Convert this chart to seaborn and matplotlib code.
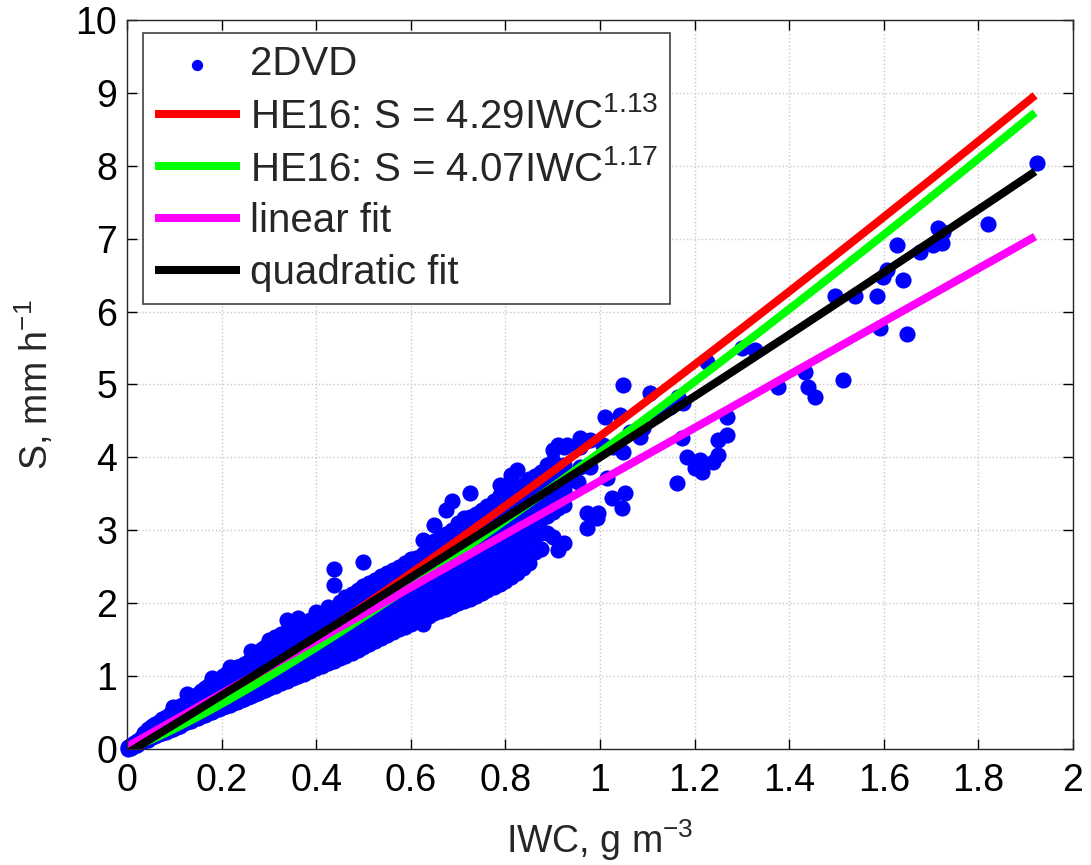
import numpy as np
import pandas as pd
import matplotlib
matplotlib.use("Agg")
import matplotlib.pyplot as plt
import seaborn as sns

# ---------------- data ----------------
# dense core of the 2DVD cloud, one row per IWC column: (IWC [g m^-3], [S values, mm h^-1])
core_rows = [
    (0.003, [0.00, 0.03]), (0.008, [0.02, 0.05]), (0.015, [0.04, 0.08]),
    (0.022, [0.06, 0.11]), (0.030, [0.09, 0.15]), (0.037, [0.11, 0.17, 0.22]),
    (0.045, [0.13, 0.20, 0.27]), (0.052, [0.16, 0.23, 0.31]), (0.060, [0.18, 0.26, 0.34]),
    (0.067, [0.20, 0.29, 0.37]), (0.075, [0.22, 0.32, 0.41]), (0.082, [0.24, 0.34, 0.44]),
    (0.090, [0.26, 0.37, 0.48]), (0.097, [0.28, 0.40, 0.52, 0.58]), (0.105, [0.30, 0.42, 0.55]),
    (0.112, [0.32, 0.45, 0.59]), (0.120, [0.35, 0.48, 0.62]), (0.127, [0.37, 0.50, 0.64, 0.76]),
    (0.135, [0.39, 0.53, 0.68]), (0.142, [0.41, 0.56, 0.72]), (0.150, [0.43, 0.58, 0.75]),
    (0.157, [0.45, 0.60, 0.79]), (0.165, [0.47, 0.62, 0.78, 0.84]),
    (0.172, [0.49, 0.64, 0.80, 0.86]), (0.180, [0.51, 0.66, 0.82, 0.97]),
    (0.187, [0.53, 0.68, 0.84, 0.92]), (0.195, [0.55, 0.70, 0.86, 0.96]),
    (0.202, [0.57, 0.72, 0.88, 1.00]), (0.210, [0.59, 0.74, 0.90, 1.03]),
    (0.217, [0.61, 0.76, 0.92, 1.07, 1.12]), (0.225, [0.63, 0.78, 0.94, 1.10]),
    (0.232, [0.65, 0.80, 0.96, 1.12]), (0.240, [0.67, 0.82, 0.98, 1.14]),
    (0.247, [0.69, 0.84, 1.00, 1.17]), (0.255, [0.71, 0.86, 1.02, 1.20]),
    (0.262, [0.73, 0.88, 1.04, 1.22, 1.35]), (0.270, [0.75, 0.90, 1.06, 1.24, 1.30]),
    (0.277, [0.77, 0.93, 1.09, 1.26, 1.33]), (0.285, [0.79, 0.95, 1.12, 1.28, 1.37]),
    (0.292, [0.81, 0.97, 1.14, 1.31, 1.40]),
    (0.300, [0.84, 0.98, 1.12, 1.26, 1.40, 1.50]),
    (0.312, [0.87, 1.01, 1.15, 1.29, 1.43, 1.54]),
    (0.325, [0.90, 1.04, 1.18, 1.32, 1.46, 1.58]),
    (0.338, [0.93, 1.07, 1.21, 1.35, 1.50, 1.62, 1.77]),
    (0.350, [0.97, 1.10, 1.24, 1.38, 1.53, 1.66]),
    (0.362, [1.00, 1.14, 1.28, 1.42, 1.56, 1.70, 1.80]),
    (0.375, [1.03, 1.17, 1.31, 1.45, 1.60, 1.73]),
    (0.388, [1.07, 1.21, 1.35, 1.49, 1.63, 1.77]),
    (0.400, [1.11, 1.25, 1.39, 1.53, 1.67, 1.81, 1.88]),
    (0.412, [1.14, 1.28, 1.42, 1.56, 1.70, 1.84]),
    (0.425, [1.18, 1.32, 1.46, 1.60, 1.74, 1.88, 1.95]),
    (0.438, [1.21, 1.35, 1.49, 1.63, 1.77, 1.91, 2.25, 2.47]),
    (0.450, [1.25, 1.39, 1.53, 1.67, 1.81, 1.95, 2.02]),
    (0.462, [1.28, 1.42, 1.56, 1.70, 1.84, 1.98, 2.08]),
    (0.475, [1.32, 1.46, 1.60, 1.74, 1.88, 2.02, 2.12]),
    (0.488, [1.36, 1.50, 1.64, 1.78, 1.92, 2.06, 2.18]),
    (0.500, [1.40, 1.54, 1.68, 1.82, 1.96, 2.10, 2.24, 2.56]),
    (0.512, [1.44, 1.58, 1.72, 1.86, 2.00, 2.14, 2.28]),
    (0.525, [1.48, 1.62, 1.76, 1.90, 2.04, 2.18, 2.32]),
    (0.538, [1.52, 1.66, 1.80, 1.94, 2.08, 2.22, 2.37]),
    (0.550, [1.56, 1.70, 1.84, 1.98, 2.12, 2.26, 2.42]),
    (0.562, [1.60, 1.74, 1.88, 2.02, 2.16, 2.30, 2.46]),
    (0.575, [1.64, 1.78, 1.92, 2.06, 2.20, 2.34, 2.50]),
    (0.588, [1.68, 1.82, 1.96, 2.10, 2.24, 2.38, 2.55]),
    (0.600, [1.72, 1.86, 2.00, 2.14, 2.28, 2.42, 2.60]),
    (0.612, [1.76, 1.90, 2.04, 2.18, 2.32, 2.46, 2.62]),
    (0.625, [1.72, 1.84, 1.98, 2.12, 2.26, 2.40, 2.54, 2.68, 2.87]),
    (0.638, [1.83, 1.97, 2.11, 2.25, 2.39, 2.53, 2.67, 2.80]),
    (0.650, [1.86, 2.00, 2.14, 2.28, 2.42, 2.56, 2.70, 2.85, 3.07]),
    (0.662, [1.89, 2.03, 2.17, 2.31, 2.45, 2.59, 2.73, 2.90]),
    (0.675, [1.92, 2.06, 2.20, 2.34, 2.48, 2.62, 2.76, 2.95, 3.28]),
    (0.688, [1.96, 2.10, 2.24, 2.38, 2.52, 2.66, 2.80, 3.00, 3.40]),
    (0.700, [2.00, 2.14, 2.28, 2.42, 2.56, 2.70, 2.84, 2.98, 3.10]),
    (0.712, [2.03, 2.17, 2.31, 2.45, 2.59, 2.73, 2.87, 3.01, 3.14, 3.17]),
    (0.725, [2.06, 2.20, 2.34, 2.48, 2.62, 2.76, 2.90, 3.04, 3.18, 3.51]),
    (0.738, [2.10, 2.24, 2.38, 2.52, 2.66, 2.80, 2.94, 3.08, 3.23]),
    (0.750, [2.14, 2.28, 2.42, 2.56, 2.70, 2.84, 2.98, 3.12, 3.28]),
    (0.762, [2.18, 2.32, 2.46, 2.60, 2.74, 2.88, 3.02, 3.16, 3.34]),
    (0.775, [2.22, 2.36, 2.50, 2.64, 2.78, 2.92, 3.06, 3.20, 3.40]),
    (0.788, [2.26, 2.40, 2.54, 2.68, 2.82, 2.96, 3.10, 3.26, 3.48, 3.62]),
    (0.800, [2.30, 2.44, 2.58, 2.72, 2.86, 3.00, 3.14, 3.30, 3.45, 3.60]),
    (0.812, [2.36, 2.50, 2.64, 2.78, 2.92, 3.06, 3.20, 3.35, 3.50, 3.69, 3.76]),
    (0.825, [2.42, 2.56, 2.70, 2.84, 2.98, 3.12, 3.26, 3.40, 3.55, 3.83]),
    (0.838, [2.48, 2.62, 2.76, 2.90, 3.04, 3.18, 3.32, 3.46, 3.62]),
    (0.850, [2.55, 2.70, 2.89, 3.10, 3.25, 3.40, 3.55, 3.70]),
    (0.862, [2.70, 2.92, 3.12, 3.30, 3.45, 3.60, 3.75]),
    (0.875, [2.75, 2.96, 3.15, 3.35, 3.50, 3.65, 3.80]),
    (0.888, [2.96, 3.20, 3.40, 3.55, 3.70, 3.90]),
    (0.900, [2.91, 3.25, 3.45, 3.60, 3.78, 3.95, 4.10]),
    (0.912, [2.73, 3.30, 3.50, 3.65, 3.85, 4.17]),
    (0.925, [2.83, 3.35, 3.55, 3.70, 3.90, 4.14]),
]

# sparse high-IWC points (IWC, S)
outlier_points = [
    (0.930, 4.17), (0.958, 4.27), (0.958, 4.14), (0.979, 4.24), (0.937, 3.69), (0.953, 3.66),
    (0.958, 3.87), (0.979, 3.87), (0.972, 3.24), (0.996, 3.24), (0.994, 3.17), (0.972, 3.03),
    (1.006, 4.17), (1.027, 4.14), (1.049, 4.07), (1.011, 4.55), (1.042, 4.58), (1.049, 4.99),
    (1.015, 3.72), (1.025, 3.44), (1.053, 3.51), (1.047, 3.31), (1.063, 4.35), (1.091, 4.40),
    (1.085, 4.28), (1.106, 4.88), (1.120, 4.58), (1.148, 4.69), (1.165, 4.83), (1.175, 4.75),
    (1.163, 3.65), (1.173, 4.27), (1.184, 4.01), (1.211, 3.96), (1.201, 3.85), (1.216, 3.80),
    (1.226, 5.31), (1.239, 3.94), (1.249, 4.03), (1.249, 4.24), (1.268, 4.31), (1.268, 4.55),
    (1.300, 5.50), (1.328, 5.47), (1.376, 4.97), (1.433, 5.17), (1.440, 4.97), (1.455, 4.83),
    (1.497, 6.21), (1.514, 5.06), (1.539, 6.21), (1.586, 6.21), (1.592, 5.77), (1.598, 6.47),
    (1.607, 6.57), (1.628, 6.91), (1.641, 6.43), (1.649, 5.69), (1.677, 6.82), (1.704, 6.91),
    (1.715, 7.15), (1.723, 6.94), (1.725, 7.09), (1.820, 7.20), (1.924, 8.04),
]

he16_a = [4.29, 4.07]
he16_b = [1.13, 1.17]
linear_coef = [0.03, 3.645]          # intercept, slope
quad_coef = [-0.06, 3.955, 0.105]    # c0, c1, c2
iwc_range = [0.0, 1.92]

x_ticks = [0, 0.2, 0.4, 0.6, 0.8, 1, 1.2, 1.4, 1.6, 1.8, 2]
y_ticks = [0, 1, 2, 3, 4, 5, 6, 7, 8, 9, 10]

# ---------------- styling ----------------
sns.set_theme(style="white")
plt.rcParams['font.family'] = ['Liberation Sans', 'DejaVu Sans']
plt.rcParams['mathtext.fontset'] = 'custom'
plt.rcParams['mathtext.rm'] = 'Liberation Sans'
plt.rcParams['mathtext.it'] = 'Liberation Sans'
plt.rcParams['mathtext.bf'] = 'Liberation Sans:bold'
plt.rcParams['axes.unicode_minus'] = False

fig = plt.figure(figsize=(10.91, 8.65), dpi=100)
ax = fig.add_axes([0.1164, 0.1341, 0.867, 0.8428])

iwc_vals = [x for x, ys in core_rows for _ in ys] + [p[0] for p in outlier_points]
s_vals = [y for _, ys in core_rows for y in ys] + [p[1] for p in outlier_points]
pts = pd.DataFrame({"IWC": iwc_vals, "S": s_vals})
sns.scatterplot(data=pts, x="IWC", y="S", ax=ax, color="#0000ff", s=135,
                linewidth=0, label="2DVD", zorder=2, clip_on=False)

x_fit = np.linspace(iwc_range[0], iwc_range[1], 300)
fits = pd.DataFrame({
    "IWC": x_fit,
    "red": he16_a[0] * x_fit ** he16_b[0],
    "green": he16_a[1] * x_fit ** he16_b[1],
    "lin": linear_coef[0] + linear_coef[1] * x_fit,
    "quad": quad_coef[0] + quad_coef[1] * x_fit + quad_coef[2] * x_fit ** 2,
})
labels = [r"HE16: S = 4.29IWC$^{1.13}$", r"HE16: S = 4.07IWC$^{1.17}$",
          "linear fit", "quadratic fit"]
colors = ["#ff0000", "#00ff00", "#ff00ff", "#000000"]
for col, lab, c in zip(["red", "green", "lin", "quad"], labels, colors):
    sns.lineplot(data=fits, x="IWC", y=col, ax=ax, color=c, linewidth=5.8,
                 label=lab, solid_capstyle="butt", zorder=3)

ax.set_xlim(0, 2)
ax.set_ylim(0, 10)
ax.set_xticks(x_ticks)
ax.set_xticklabels([f"{t:g}" for t in x_ticks])
ax.set_yticks(y_ticks)
ax.set_yticklabels([f"{t:g}" for t in y_ticks])
ax.tick_params(axis="both", which="major", direction="in", length=7, width=1,
               labelsize=27, colors="#000000", top=True, right=True,
               bottom=True, left=True)
ax.tick_params(axis="x", pad=10)
ax.tick_params(axis="y", pad=7)
ax.grid(True, color="#c8c8c8", linestyle=":", linewidth=1.0)
for sp in ax.spines.values():
    sp.set_color("#262626")
    sp.set_linewidth(1.0)
    sp.set_zorder(4)

ax.set_xlabel(r"IWC, g m$^{-3}$", fontsize=27, labelpad=13)
ax.set_ylabel(r"S, mm h$^{-1}$", fontsize=27, labelpad=14)

leg = ax.legend(loc="upper left", bbox_to_anchor=(0.017, 0.982), borderaxespad=0,
                fontsize=29, frameon=True, fancybox=False, handlelength=2.1,
                handletextpad=0.25, labelspacing=0.34, borderpad=0.3,
                markerscale=0.7)
leg.get_frame().set_edgecolor("#404040")
leg.get_frame().set_linewidth(1.2)
leg.get_frame().set_alpha(1)
leg.set_zorder(5)

fig.savefig("out.png", dpi=100)
